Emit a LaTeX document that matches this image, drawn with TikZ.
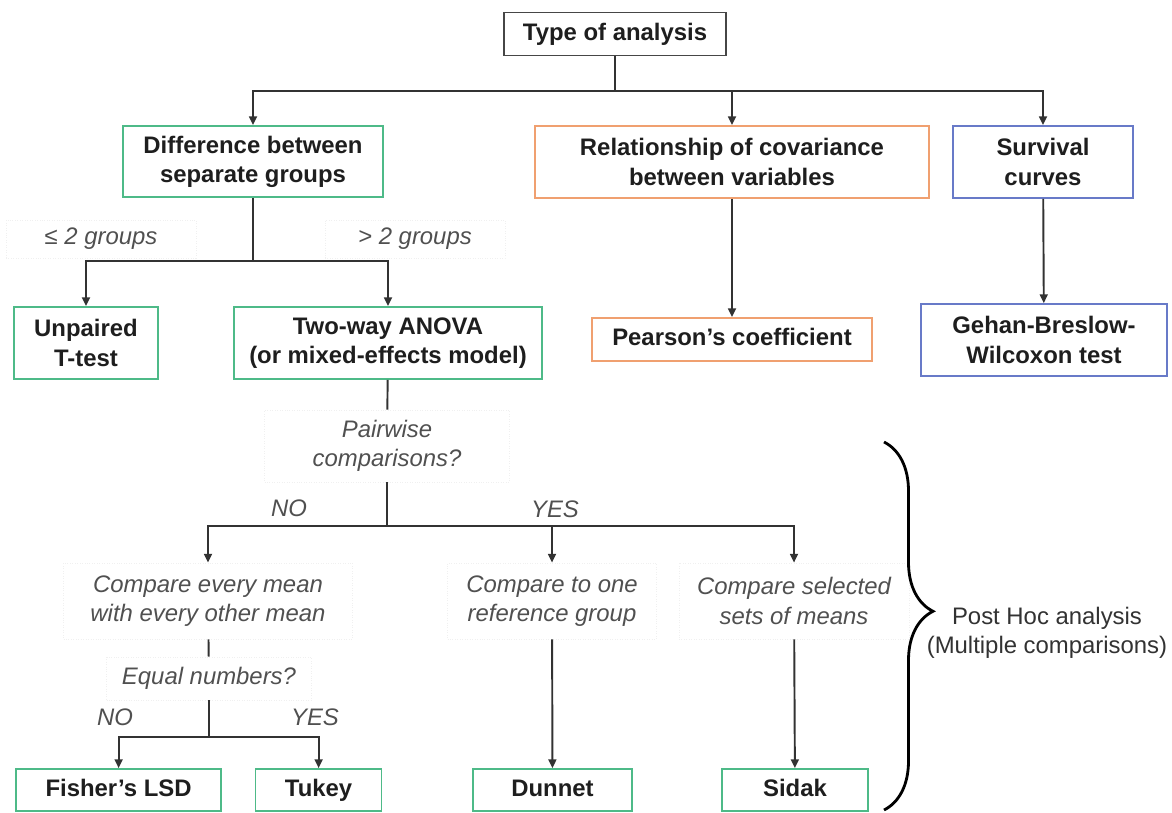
\documentclass[tikz,border=0pt]{standalone}
\usepackage{fontspec}
\setmainfont{Liberation Sans}
\usetikzlibrary{arrows.meta,decorations.pathreplacing}
\definecolor{boxgreen}{RGB}{78,186,136}
\definecolor{boxorange}{RGB}{240,160,112}
\definecolor{boxblue}{RGB}{104,122,200}
\definecolor{boxdark}{RGB}{70,70,70}
\definecolor{linegray}{RGB}{50,50,50}
\definecolor{txtdark}{RGB}{30,30,30}
\definecolor{notegray}{RGB}{80,80,80}
\begin{document}
\begin{tikzpicture}[x=0.02cm,y=-0.02cm,
    every node/.style={font=\fontsize{13.6}{16.6}\selectfont},
    box/.style={draw, line width=1pt, fill=white, align=center, text=txtdark,
        inner sep=1pt, font=\fontsize{13.6}{16.6}\selectfont\bfseries},
    grnbox/.style={box, draw=boxgreen},
    orgbox/.style={box, draw=boxorange},
    blubox/.style={box, draw=boxblue},
    oneline/.style={text height=0.72em, text depth=0pt},
    note/.style={align=center, text=notegray, inner sep=1pt, draw=black!6, densely dotted,
        font=\fontsize{13.6}{16.6}\selectfont\itshape},
    yesno/.style={text=notegray, inner sep=1pt, font=\fontsize{13.6}{16.6}\selectfont\itshape},
    link/.style={draw=linegray, line width=1.1pt},
    arr/.style={link, -{Triangle[length=5pt,width=4.5pt]}}]
    \useasboundingbox (0,0) rectangle (1172,812);

    \node[box, oneline, draw=boxdark, minimum width=4.44cm, minimum height=0.86cm] (type) at (615,34) {Type of analysis};
    \node[grnbox, minimum width=5.2cm, minimum height=1.42cm] (diff) at (253,161.5) {Difference between\\separate groups};
    \node[orgbox, minimum width=7.88cm, minimum height=1.44cm] (rel) at (732,162) {Relationship of covariance\\between variables};
    \node[blubox, minimum width=3.6cm, minimum height=1.44cm] (surv) at (1043,162) {Survival\\curves};

    \node[grnbox, minimum width=2.88cm, minimum height=1.44cm] (unp) at (86,343) {Unpaired\\T-test};
    \node[grnbox, minimum width=6.16cm, minimum height=1.44cm] (two) at (388,343) {Two-way ANOVA\\(or mixed-effects model)};
    \node[orgbox, oneline, minimum width=5.6cm, minimum height=0.86cm] (pear) at (732,339.5) {Pearson's coefficient};
    \node[blubox, minimum width=4.92cm, minimum height=1.44cm] (geh) at (1044,340) {Gehan-Breslow-\\Wilcoxon test};

    \node[note, minimum width=3.8cm, minimum height=0.76cm] (le2) at (101,239) {≤ 2 groups};
    \node[note, minimum width=3.6cm, minimum height=0.76cm] (gt2) at (415,239) {> 2 groups};
    \node[note, minimum width=4.9cm, minimum height=1.44cm] (pair) at (387,446) {Pairwise\\comparisons?};
    \node[yesno] (no1) at (289,508) {NO};
    \node[yesno] (yes1) at (555,509) {YES};

    \node[note, minimum width=5.78cm, minimum height=1.52cm] (cmpall) at (208,601) {Compare every mean\\with every other mean};
    \node[note, minimum width=4.18cm, minimum height=1.52cm] (cmpref) at (552,601) {Compare to one\\reference group};
    \node[note, minimum width=4.6cm, minimum height=1.52cm] (cmpsel) at (794,601) {Compare selected\\sets of means};
    \node[note, minimum width=4.1cm, minimum height=0.86cm] (eq) at (209,678.5) {Equal numbers?};
    \node[yesno] (no2) at (115,717) {NO};
    \node[yesno] (yes2) at (315,717) {YES};

    \node[grnbox, oneline, minimum width=4.1cm, minimum height=0.84cm] (fish) at (118.6,790) {Fisher's LSD};
    \node[grnbox, oneline, minimum width=2.52cm, minimum height=0.84cm] (tuk) at (318.6,790) {Tukey};
    \node[grnbox, oneline, minimum width=3.18cm, minimum height=0.84cm] (dun) at (552.5,790) {Dunnet};
    \node[grnbox, oneline, minimum width=2.92cm, minimum height=0.84cm] (sid) at (795,790) {Sidak};

    \node[align=center, text=linegray] (post) at (1047,633) {Post Hoc analysis\\(Multiple comparisons)};

    \coordinate (j0) at (615,91);
    \coordinate (j1) at (253,261);
    \coordinate (j2) at (387,526);
    \coordinate (j3) at (209,737);
    \coordinate (bt) at (884,442);
    \coordinate (bb) at (884,810);

    \draw[link] (type) -- (j0);
    \draw[arr] (j0) -| (diff);
    \draw[arr] (j0) -| (rel);
    \draw[arr] (j0) -| (surv);

    \draw[link] (diff) -- (j1);
    \draw[arr] (j1) -| (unp);
    \draw[arr] (j1) -| (two);
    \draw[arr] (rel) -- (pear);
    \draw[arr] (surv) -- (geh);

    \draw[link] (two) -- (pair);
    \draw[link] (pair) -- (j2);
    \draw[arr] (j2) -| (cmpall);
    \draw[arr] (j2) -| (cmpref);
    \draw[arr] (j2) -| (cmpsel);

    \draw[link] (cmpall) -- (eq);
    \draw[link] (eq) -- (j3);
    \draw[arr] (j3) -| (fish);
    \draw[arr] (j3) -| (tuk);
    \draw[arr] (cmpref) -- (dun);
    \draw[arr] (cmpsel) -- (sid);

    \draw[line width=1.6pt, decorate, decoration={brace, amplitude=0.98cm, aspect=0.46}] (bt) -- (bb);
\end{tikzpicture}
\end{document}
